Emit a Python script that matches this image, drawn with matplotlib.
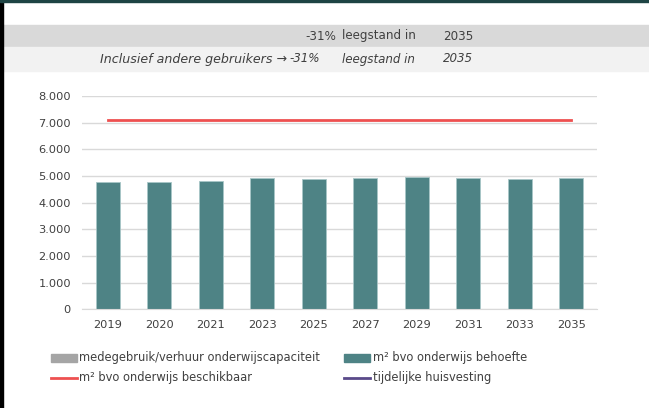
import numpy as np
import matplotlib.pyplot as plt
from matplotlib.patches import Rectangle
from matplotlib.lines import Line2D

# data
years = ["2019", "2020", "2021", "2023", "2025", "2027", "2029", "2031", "2033", "2035"]
behoefte = [4760, 4770, 4810, 4935, 4885, 4935, 4970, 4910, 4885, 4920]
medegebruik = [0, 0, 0, 0, 0, 0, 0, 0, 0, 0]
beschikbaar = [7090, 7090, 7090, 7090, 7090, 7090, 7090, 7090, 7090, 7090]
yticks = [0, 1000, 2000, 3000, 4000, 5000, 6000, 7000, 8000]
ytick_labels = ["0", "1.000", "2.000", "3.000", "4.000", "5.000", "6.000", "7.000", "8.000"]

W, H = 649, 408
plt.rcParams['font.family'] = ['DejaVu Sans']
fig = plt.figure(figsize=(W / 100, H / 100), dpi=100)

def px(x, y):
    # pixel coords (top-left origin) -> figure fraction
    return x / W, 1 - y / H

# header bands
fig.patches.append(Rectangle(px(3, 46.7), (W - 3) / W, 21.7 / H, transform=fig.transFigure,
                             color="#d9d9d9", zorder=0))
fig.patches.append(Rectangle(px(3, 70.5), (W - 3) / W, 23.8 / H, transform=fig.transFigure,
                             color="#f2f2f2", zorder=0))
# borders
fig.patches.append(Rectangle(px(0, H), 3 / W, 1, transform=fig.transFigure, color="black", zorder=5))
fig.patches.append(Rectangle(px(0, 2), 1, 2 / H, transform=fig.transFigure, color="#1e4444", zorder=5))

tc = "#404040"
fs = 8.6
fig.text(*px(336, 36), "-31%", ha="right", va="center", fontsize=fs, color=tc)
fig.text(*px(342, 36), "leegstand in", ha="left", va="center", fontsize=fs, color=tc)
fig.text(*px(443, 36), "2035", ha="left", va="center", fontsize=fs, color=tc)
fig.text(*px(287, 59), "Inclusief andere gebruikers \u2192", ha="right", va="center",
         fontsize=9.1, color=tc, style="italic")
fig.text(*px(320, 59), "-31%", ha="right", va="center", fontsize=fs, color=tc, style="italic")
fig.text(*px(342, 59), "leegstand in", ha="left", va="center", fontsize=fs, color=tc, style="italic")
fig.text(*px(443, 59), "2035", ha="left", va="center", fontsize=fs, color=tc, style="italic")

# main axes
left, right, top, bottom = 82, 597, 96, 309.3
ax = fig.add_axes([left / W, 1 - bottom / H, (right - left) / W, (bottom - top) / H])
x = np.arange(len(years))
ax.bar(x, behoefte, width=0.47, color="#4e8385", edgecolor="#a8c6c7", linewidth=0.6, zorder=2)
ax.bar(x, medegebruik, bottom=behoefte, width=0.47, color="#a5a5a5", zorder=2)
ax.plot(x, beschikbaar, color="#ee5050", linewidth=2, zorder=3)

ax.set_xlim(-0.5, len(years) - 0.5)
ax.set_ylim(0, 8000)
ax.set_yticks(yticks)
ax.set_yticklabels(ytick_labels)
ax.set_xticks(x)
ax.set_xticklabels(years)
ax.tick_params(length=0, labelsize=8.2, colors=tc)
ax.tick_params(axis="y", pad=8)
ax.tick_params(axis="x", pad=8)
ax.grid(axis="y", color="#d9d9d9", linewidth=1, zorder=0)
for s in ["top", "right", "left"]:
    ax.spines[s].set_visible(False)
ax.spines["bottom"].set_color("#d9d9d9")
ax.set_axisbelow(True)

# legend
lfs = 8.3
fig.patches.append(Rectangle(px(51, 362), 26 / W, 8 / H, transform=fig.transFigure, color="#a5a5a5"))
fig.text(*px(79, 358), "medegebruik/verhuur onderwijscapaciteit", ha="left", va="center", fontsize=lfs, color=tc)
fig.patches.append(Rectangle(px(344, 362), 26 / W, 8 / H, transform=fig.transFigure, color="#4e8385"))
fig.text(*px(373, 358), "m\u00b2 bvo onderwijs behoefte", ha="left", va="center", fontsize=lfs, color=tc)
fig.lines.append(Line2D([51 / W, 77 / W], [1 - 378 / H] * 2, transform=fig.transFigure,
                        color="#ee5050", linewidth=2))
fig.text(*px(79, 378), "m\u00b2 bvo onderwijs beschikbaar", ha="left", va="center", fontsize=lfs, color=tc)
fig.lines.append(Line2D([344 / W, 370 / W], [1 - 378 / H] * 2, transform=fig.transFigure,
                        color="#5a4a8a", linewidth=2))
fig.text(*px(373, 378), "tijdelijke huisvesting", ha="left", va="center", fontsize=lfs, color=tc)

fig.savefig("out.png", dpi=100)
